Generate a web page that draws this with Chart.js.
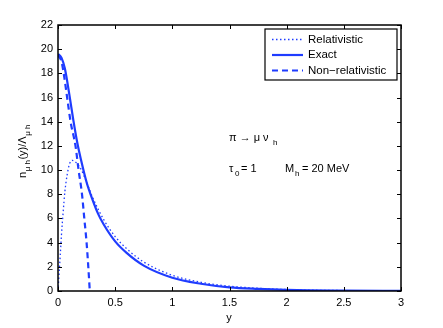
<!DOCTYPE html>
<html>
<head>
<meta charset="utf-8">
<script src="https://cdn.jsdelivr.net/npm/chart.js@4"></script>
<style>
  html, body { margin: 0; padding: 0; background: #fff; }
  #wrap { width: 443px; height: 328px; }
</style>
</head>
<body>
<div id="wrap"><canvas id="grafico" width="443" height="328"></canvas></div>
<script>
// valores
const yExacto = [0, 0.03, 0.06, 0.1, 0.133, 0.17, 0.2, 0.25, 0.3, 0.35, 0.4, 0.5, 0.6, 0.75, 1, 1.25, 1.5, 1.75, 2, 2.5, 3];
const nExacto = [19.6, 19.3, 18.4, 16.2, 14.2, 12.2, 10.9, 9.0, 7.6, 6.4, 5.5, 4.1, 3.15, 2.1, 1.1, 0.6, 0.3, 0.17, 0.09, 0.025, 0.007];

const yRel = [0, 0.01, 0.02, 0.03, 0.045, 0.06, 0.08, 0.1, 0.125, 0.15, 0.2, 0.25, 0.3, 0.4, 0.5, 0.6, 0.75, 1, 1.25, 1.5, 2, 2.5, 3];
const nRel = [0, 1.5, 3, 4.6, 6.5, 8.2, 9.6, 10.5, 10.8, 10.7, 10.1, 9.0, 7.8, 5.9, 4.5, 3.5, 2.4, 1.3, 0.72, 0.4, 0.12, 0.035, 0.01];

const yNoRel = [0, 0.03, 0.05, 0.08, 0.11, 0.153, 0.18, 0.21, 0.23, 0.25, 0.265, 0.278];
const nNoRel = [19.5, 19, 18, 16, 14, 12, 10, 8, 6, 4, 2, 0];

const ticksX = [0, 0.5, 1, 1.5, 2, 2.5, 3];
const ticksY = [0, 2, 4, 6, 8, 10, 12, 14, 16, 18, 20, 22];

const azul = '#1f3cff';
const fuente = '"Liberation Sans", Arial, sans-serif';

function puntos(xs, ys) {
    return xs.map((x, i) => ({ x: x, y: ys[i] }));
}

// marco, ticks hacia adentro, leyenda y textos
const extras = {
    id: 'extras',
    afterDatasetsDraw(chart) {
        const ctx = chart.ctx;
        const a = chart.chartArea;
        const sx = chart.scales.x, sy = chart.scales.y;
        ctx.save();
        ctx.strokeStyle = '#000';
        ctx.lineWidth = 1.5;
        ctx.strokeRect(a.left, a.top, a.right - a.left, a.bottom - a.top);
        ctx.lineWidth = 1;
        ctx.beginPath();
        for (const t of ticksX) {
            const px = Math.round(sx.getPixelForValue(t)) + 0.5;
            ctx.moveTo(px, a.bottom); ctx.lineTo(px, a.bottom - 4);
            ctx.moveTo(px, a.top); ctx.lineTo(px, a.top + 4);
        }
        for (const t of ticksY) {
            const py = Math.round(sy.getPixelForValue(t)) + 0.5;
            ctx.moveTo(a.left, py); ctx.lineTo(a.left + 4, py);
            ctx.moveTo(a.right, py); ctx.lineTo(a.right - 4, py);
        }
        ctx.stroke();

        // leyenda
        const lx = 265, ly = 29, lw = 132, lh = 51;
        ctx.fillStyle = '#fff';
        ctx.fillRect(lx, ly, lw, lh);
        ctx.lineWidth = 1.2;
        ctx.strokeRect(lx, ly, lw, lh);
        const filas = [
            { txt: 'Relativistic', dash: [1.5, 2.5], w: 1.3 },
            { txt: 'Exact', dash: [], w: 2.2 },
            { txt: 'Non\u2212relativistic', dash: [6, 4], w: 2.2 }
        ];
        ctx.font = '11.5px ' + fuente;
        ctx.textBaseline = 'middle';
        filas.forEach((f, i) => {
            const yy = ly + 10.5 + i * 15.5;
            ctx.strokeStyle = azul;
            ctx.lineWidth = f.w;
            ctx.setLineDash(f.dash);
            ctx.beginPath();
            ctx.moveTo(272, yy); ctx.lineTo(303, yy);
            ctx.stroke();
            ctx.setLineDash([]);
            ctx.fillStyle = '#000';
            ctx.fillText(f.txt, 308, yy);
        });

        // textos de la figura
        ctx.fillStyle = '#000';
        ctx.textBaseline = 'alphabetic';
        ctx.font = '11px ' + fuente;
        ctx.fillText('\u03c0 \u2192 \u03bc \u03bd', 229, 141);
        ctx.font = '8px ' + fuente;
        ctx.fillText('h', 273, 145);
        ctx.font = '11px ' + fuente;
        ctx.fillText('\u03c4', 229, 172);
        ctx.fillText('= 1', 241, 172);
        ctx.fillText('M', 285, 172);
        ctx.fillText('= 20 MeV', 302, 172);
        ctx.font = '8px ' + fuente;
        ctx.fillText('0', 235, 176);
        ctx.fillText('h', 295, 176);

        // etiqueta eje x
        ctx.font = '11px ' + fuente;
        ctx.textAlign = 'center';
        ctx.fillText('y', 229, 321);

        // etiqueta eje y (rotada)
        const partes = [
            ['n', 11, 0], ['\u03bc h', 8, 4], ['(y)/\u039b', 11, 0], ['\u03bc h', 8, 4]
        ];
        let total = 0;
        for (const p of partes) {
            ctx.font = p[1] + 'px ' + fuente;
            total += ctx.measureText(p[0]).width + 0.5;
        }
        ctx.translate(26, 151);
        ctx.rotate(-Math.PI / 2);
        ctx.textAlign = 'left';
        let x0 = -total / 2;
        for (const p of partes) {
            ctx.font = p[1] + 'px ' + fuente;
            ctx.fillText(p[0], x0, p[2]);
            x0 += ctx.measureText(p[0]).width + 0.5;
        }
        ctx.restore();
    }
};

const config = {
    type: 'scatter',
    data: {
        datasets: [
            {
                label: 'Relativistic',
                data: puntos(yRel, nRel),
                showLine: true,
                borderColor: azul,
                borderWidth: 1.3,
                borderDash: [1.5, 2.5],
                pointRadius: 0,
                cubicInterpolationMode: 'monotone'
            },
            {
                label: 'Exact',
                data: puntos(yExacto, nExacto),
                showLine: true,
                borderColor: azul,
                borderWidth: 2.2,
                pointRadius: 0,
                cubicInterpolationMode: 'monotone'
            },
            {
                label: 'Non-relativistic',
                data: puntos(yNoRel, nNoRel),
                showLine: true,
                borderColor: azul,
                borderWidth: 2.2,
                borderDash: [6, 4],
                pointRadius: 0,
                cubicInterpolationMode: 'monotone'
            }
        ]
    },
    options: {
        responsive: false,
        animation: false,
        layout: { padding: { left: 0, top: 25, right: 42, bottom: 0 } },
        plugins: { legend: { display: false }, tooltip: { enabled: false } },
        scales: {
            x: {
                type: 'linear', min: 0, max: 3,
                afterBuildTicks: (s) => { s.ticks = ticksX.map(v => ({ value: v })); },
                afterFit: (s) => { s.height = 37; },
                grid: { display: false, drawTicks: false },
                border: { display: false },
                ticks: {
                    color: '#000', padding: 5,
                    font: { family: fuente, size: 11 },
                    maxRotation: 0,
                    callback: (v) => String(v)
                }
            },
            y: {
                type: 'linear', min: 0, max: 22,
                afterBuildTicks: (s) => { s.ticks = ticksY.map(v => ({ value: v })); },
                afterFit: (s) => { s.width = 58; },
                grid: { display: false, drawTicks: false },
                border: { display: false },
                ticks: {
                    color: '#000', padding: 5,
                    font: { family: fuente, size: 11 },
                    callback: (v) => String(v)
                }
            }
        }
    },
    plugins: [extras]
};

new Chart(document.getElementById('grafico'), config);
</script>
</body>
</html>
